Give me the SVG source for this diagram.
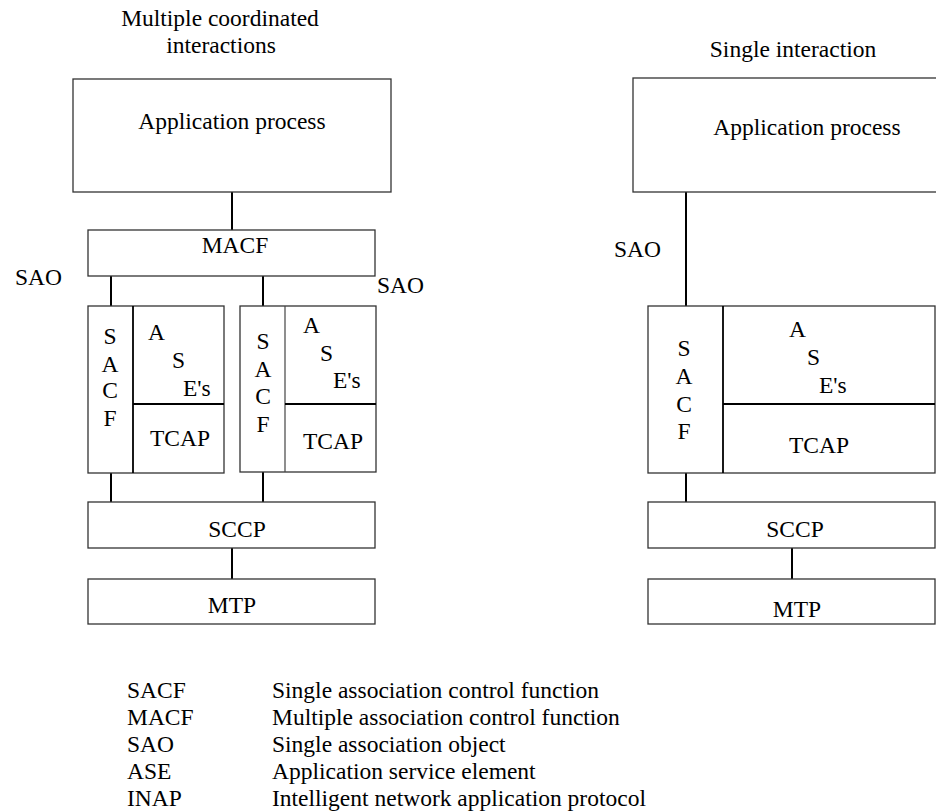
<svg xmlns="http://www.w3.org/2000/svg" width="936" height="811" viewBox="0 0 936 811" font-family="'Liberation Serif', 'DejaVu Serif', serif">
<style>
text{font-family:'Liberation Serif','Times New Roman','DejaVu Serif',serif;font-size:23.5px;fill:#000}
.box{fill:#fff;stroke:#333;stroke-width:1.3}
.div{stroke:#000;stroke-width:1.8;fill:none}
.thin{stroke:#444;stroke-width:1.2;fill:none}
.c{text-anchor:middle}
#connectors line{stroke:#000;stroke-width:2}
</style>
<rect width="936" height="811" fill="#fff"/>
<text class="c" x="220" y="26">Multiple coordinated</text>
<text class="c" x="221" y="53">interactions</text>
<text class="c" x="793" y="57">Single interaction</text>

<g id="connectors">
<line x1="232" y1="192" x2="232" y2="230"/>
<line x1="111" y1="276" x2="111" y2="306"/>
<line x1="263" y1="276" x2="263" y2="306"/>
<line x1="111" y1="473" x2="111" y2="502"/>
<line x1="263" y1="472" x2="263" y2="502"/>
<line x1="232" y1="548" x2="232" y2="579"/>
<line x1="686" y1="192" x2="686" y2="306"/>
<line x1="686" y1="473" x2="686" y2="502"/>
<line x1="792" y1="548" x2="792" y2="579"/>
</g>

<g id="app-left">
<rect class="box" x="73" y="79" width="318" height="113"/>
<text class="c" x="232" y="129">Application process</text>
</g>
<g id="macf">
<rect class="box" x="88" y="230" width="287" height="46"/>
<text class="c" x="235" y="253">MACF</text>
</g>
<text x="15" y="285">SAO</text>
<text x="377" y="293">SAO</text>

<g id="stack-left-1">
<rect class="box" x="88" y="306" width="136" height="167"/>
<line class="div" x1="133" y1="306" x2="133" y2="473"/>
<line class="div" x1="133" y1="404" x2="224" y2="404"/>
<text class="c" x="110" y="344">S</text>
<text class="c" x="110" y="372">A</text>
<text class="c" x="110" y="398">C</text>
<text class="c" x="110" y="426">F</text>
<text x="148" y="340">A</text>
<text x="172" y="368">S</text>
<text x="183" y="396">E's</text>
<text x="150" y="446">TCAP</text>
</g>

<g id="stack-left-2">
<rect class="box" x="240" y="306" width="136" height="166"/>
<line class="thin" x1="285" y1="306" x2="285" y2="472"/>
<line class="div" x1="285" y1="404" x2="376" y2="404"/>
<text class="c" x="263" y="349">S</text>
<text class="c" x="263" y="377">A</text>
<text class="c" x="263" y="404">C</text>
<text class="c" x="263" y="432">F</text>
<text x="303" y="333">A</text>
<text x="320" y="361">S</text>
<text x="333" y="388">E's</text>
<text x="303" y="449">TCAP</text>
</g>

<g id="sccp-left">
<rect class="box" x="88" y="502" width="287" height="46"/>
<text class="c" x="237" y="537">SCCP</text>
</g>
<g id="mtp-left">
<rect class="box" x="88" y="579" width="287" height="45"/>
<text class="c" x="232" y="613">MTP</text>
</g>

<g id="app-right">
<rect class="box" x="633" y="78" width="306" height="114"/>
<text class="c" x="807" y="135">Application process</text>
</g>
<text x="614" y="257">SAO</text>

<g id="stack-right">
<rect class="box" x="648" y="306" width="287" height="167"/>
<line class="div" x1="723" y1="306" x2="723" y2="473"/>
<line class="div" x1="723" y1="404" x2="935" y2="404"/>
<text class="c" x="684" y="356">S</text>
<text class="c" x="684" y="384">A</text>
<text class="c" x="684" y="412">C</text>
<text class="c" x="684" y="439">F</text>
<text x="789" y="337">A</text>
<text x="807" y="365">S</text>
<text x="819" y="393">E's</text>
<text x="789" y="453">TCAP</text>
</g>

<g id="sccp-right">
<rect class="box" x="648" y="502" width="287" height="46"/>
<text class="c" x="795" y="537">SCCP</text>
</g>
<g id="mtp-right">
<rect class="box" x="648" y="579" width="287" height="45"/>
<text class="c" x="797" y="617">MTP</text>
</g>

<g id="legend">
<text x="127" y="698">SACF</text>
<text x="127" y="725">MACF</text>
<text x="127" y="752">SAO</text>
<text x="127" y="779">ASE</text>
<text x="127" y="806">INAP</text>
<text x="272" y="698">Single association control function</text>
<text x="272" y="725">Multiple association control function</text>
<text x="272" y="752">Single association object</text>
<text x="272" y="779">Application service element</text>
<text x="272" y="806">Intelligent network application protocol</text>
</g>
</svg>
